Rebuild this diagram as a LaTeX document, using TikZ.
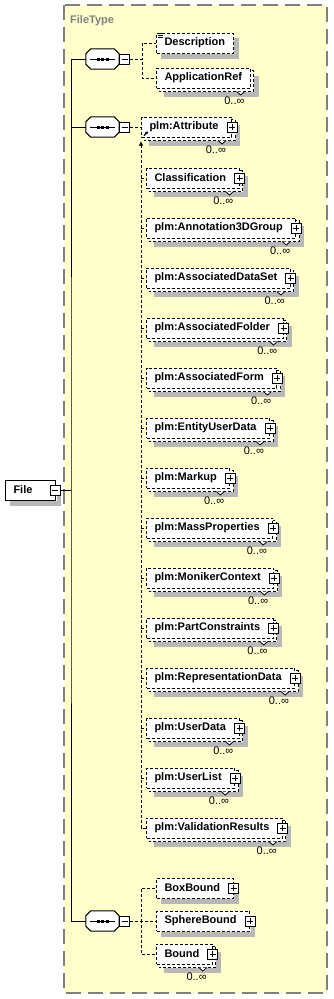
\documentclass[tikz,border=0pt]{standalone}
\usepackage{fontspec}
\setmainfont{Liberation Sans}
\usetikzlibrary{arrows.meta}
\definecolor{typefill}{HTML}{FFFFCC}
\definecolor{typeline}{HTML}{808080}
\definecolor{shadowgray}{RGB}{184,184,184}
\pgfdeclarelayer{paper}
\pgfdeclarelayer{copylayer}
\pgfsetlayers{paper,copylayer,main}
\begin{document}
\begin{tikzpicture}[
    x=1pt,y=-1pt,line width=1pt,
    font=\fontsize{11}{13}\selectfont,
    wire/.style={black,line width=1pt},
    link/.style={black,line width=1pt,dash pattern=on 3pt off 2pt},
    typebox/.style={draw=typeline,fill=typefill,line width=1.5pt,dash pattern=on 15pt off 7pt},
    typename/.style={text=typeline,font=\fontsize{11}{13}\selectfont\bfseries,inner sep=0pt},
    elem/.style={draw=black,fill=white,line width=1pt,dash pattern=on 3pt off 2pt,
      minimum height=20pt,inner xsep=8pt,inner ysep=0pt,anchor=west,
      font=\fontsize{11}{13}\selectfont\bfseries},
    backcopy/.style={draw=black,fill=white,line width=1pt,dash pattern=on 3pt off 2pt},
    dropshade/.style={fill=shadowgray,draw=none},
    expand/.style={execute at end node={\hspace*{5pt}}},
    btn/.style={draw=black,fill=white,solid,line width=1pt,minimum size=10pt,inner sep=0pt},
    minus/.style={btn,path picture={
        \draw ([xshift=2pt]path picture bounding box.west) -- ([xshift=-2pt]path picture bounding box.east);}},
    plus/.style={btn,path picture={
        \draw ([xshift=2pt]path picture bounding box.west) -- ([xshift=-2pt]path picture bounding box.east);
        \draw ([yshift=-2pt]path picture bounding box.north) -- ([yshift=2pt]path picture bounding box.south);}},
    seq/.style={minimum width=33pt,minimum height=20pt,inner sep=0pt},
    occurs/.style={inner sep=0pt,font=\fontsize{11}{13}\selectfont},
    notch/.style={black,line width=.8pt}
  ]
    \useasboundingbox (0,0) rectangle (333,999);

    % The complex type that holds the whole content model.
    \begin{pgfonlayer}{paper}
      \draw[typebox] (64,5) rectangle (327,993);
    \end{pgfonlayer}
    \node[typename,anchor=base west] (typelabel) at (70,23.5) {FileType};

    % Root element.
    \node[elem,solid,text width=34pt,align=left] (file) at (5,490) {File};
    \coordinate (trunk) at (71,490);

    % Three sequence compositors, drawn as octagons with their shadow first.
    \node[seq] (seqA) at (102.5,59) {};
    \node[seq] (seqB) at (102.5,127) {};
    \node[seq] (seqC) at (102.5,921) {};
    \foreach \n in {seqA,seqB,seqC}{
      \path[dropshade,xshift=4pt,yshift=-4pt] ([xshift=5pt]\n.north west) -- ([xshift=-5pt]\n.north east)
        -- ([yshift=-5pt]\n.north east) -- ([yshift=5pt]\n.south east) -- ([xshift=-5pt]\n.south east)
        -- ([xshift=5pt]\n.south west) -- ([yshift=5pt]\n.south west) -- ([yshift=-5pt]\n.north west) -- cycle;
      \draw[wire,fill=white] ([xshift=5pt]\n.north west) -- ([xshift=-5pt]\n.north east)
        -- ([yshift=-5pt]\n.north east) -- ([yshift=5pt]\n.south east) -- ([xshift=-5pt]\n.south east)
        -- ([xshift=5pt]\n.south west) -- ([yshift=5pt]\n.south west) -- ([yshift=-5pt]\n.north west) -- cycle;
      \draw[wire] ([xshift=4pt]\n.west) -- ([xshift=-4pt]\n.east);
      \fill ([xshift=-6pt,yshift=1.5pt]\n.center) rectangle ++(3,3);
      \fill ([xshift=-1.5pt,yshift=1.5pt]\n.center) rectangle ++(3,3);
      \fill ([xshift=3pt,yshift=1.5pt]\n.center) rectangle ++(3,3);
    }

    % First sequence.
    \node[elem] (desc) at (156,43) {Description};
    \node[elem] (appref) at (156,78) {ApplicationRef};
    \foreach \d in {0.5,2.5,4.5}
      \draw[wire,line width=.7pt] ([xshift=2pt,yshift=-\d pt]desc.north west) -- ++(4.5,0);

    % Second sequence, every member may repeat.
    \node[elem,expand] (attr) at (141,127) {plm:Attribute};
    \node[elem,expand] (classif) at (146,178) {Classification};
    \node[elem,expand] (annot) at (146,228) {plm:Annotation3DGroup};
    \node[elem,expand] (dataset) at (146,278) {plm:AssociatedDataSet};
    \node[elem,expand] (folder) at (146,328) {plm:AssociatedFolder};
    \node[elem,expand] (form) at (146,378) {plm:AssociatedForm};
    \node[elem,expand] (entity) at (146,428) {plm:EntityUserData};
    \node[elem,expand] (markup) at (146,478) {plm:Markup};
    \node[elem,expand] (mass) at (146,528) {plm:MassProperties};
    \node[elem,expand] (moniker) at (146,578) {plm:MonikerContext};
    \node[elem,expand] (constr) at (146,628) {plm:PartConstraints};
    \node[elem,expand] (repdata) at (146,678) {plm:RepresentationData};
    \node[elem,expand] (userdata) at (146,728) {plm:UserData};
    \node[elem,expand] (userlist) at (146,778) {plm:UserList};
    \node[elem,expand] (valres) at (146,828) {plm:ValidationResults};
    \draw[wire,line width=1.2pt,-{Triangle[length=2.5pt,width=3pt]}]
      ([xshift=3pt,yshift=2pt]attr.south west) -- ++(4,-4);

    % Third sequence.
    \node[elem,expand] (boxb) at (156,888) {BoxBound};
    \node[elem,expand] (sphereb) at (156,921) {SphereBound};
    \node[elem,expand] (bound) at (156,954) {Bound};

    % The second copy behind each repeating element.
    \begin{pgfonlayer}{copylayer}
      \foreach \n in {appref,attr,classif,annot,dataset,folder,form,entity,markup,mass,
                      moniker,constr,repdata,userdata,userlist,valres,bound}
        \draw[backcopy] ([xshift=3pt,yshift=-3pt]\n.north west) rectangle ([xshift=3pt,yshift=-3pt]\n.south east);
    \end{pgfonlayer}

    % Grey shadows: only the strips that stick out right and below are drawn.
    \foreach \n in {file,desc,boxb,sphereb}{
      \path[dropshade] ([xshift=5pt,yshift=-.5pt]\n.south west) rectangle ([xshift=5pt,yshift=-5pt]\n.south east);
      \path[dropshade] ([xshift=.5pt,yshift=-5pt]\n.north east) rectangle ([xshift=5pt,yshift=-5pt]\n.south east);
    }
    \foreach \n in {appref,attr,classif,annot,dataset,folder,form,entity,markup,mass,
                    moniker,constr,repdata,userdata,userlist,valres,bound}{
      \path[dropshade] ([xshift=8pt,yshift=-3.5pt]\n.south west) rectangle ([xshift=8pt,yshift=-8pt]\n.south east);
      \path[dropshade] ([xshift=3.5pt,yshift=-8pt]\n.north east) rectangle ([xshift=8pt,yshift=-8pt]\n.south east);
    }

    % Collapse and expand buttons on the right edge of the boxes.
    \node[minus] (fileminus) at ([xshift=-1pt]file.east) {};
    \node[minus,anchor=west] (minA) at (seqA.east) {};
    \node[minus,anchor=west] (minB) at (seqB.east) {};
    \node[minus,anchor=west] (minC) at (seqC.east) {};
    \foreach \n in {attr,classif,annot,dataset,folder,form,entity,markup,mass,
                    moniker,constr,repdata,userdata,userlist,valres,boxb,sphereb,bound}
      \node[plus] (\n-plus) at (\n.east) {};

    % Occurrence labels below the repeating elements.
    \foreach \n in {appref,attr,classif,annot,dataset,folder,form,entity,markup,mass,
                    moniker,constr,repdata,userdata,userlist,valres,bound}{
      \node[occurs,anchor=north east] (\n-occ) at ([xshift=-6pt,yshift=-8.5pt]\n.south east) {0..∞};
      \fill[white] ([xshift=-14pt,yshift=-3pt]\n.south east) -- ([xshift=-10pt,yshift=-6.5pt]\n.south east)
        -- ([xshift=-6pt,yshift=-3pt]\n.south east) -- cycle;
      \draw[notch] ([xshift=-14pt,yshift=-3pt]\n.south east) -- ([xshift=-10pt,yshift=-6.5pt]\n.south east)
        -- ([xshift=-6pt,yshift=-3pt]\n.south east);
    }

    % Solid trunk from the root to the compositors.
    \draw[wire] (seqA.west) -| (trunk) |- (seqC.west);
    \draw[wire] (seqB.west) -- (seqB.west -| trunk);
    \draw[wire] (fileminus.east) -- (trunk);

    % Dashed branches to the members.
    \draw[link] (minA.east) -- ++(12,0) |- (desc.west);
    \draw[link] (minA.east) -- ++(12,0) |- (appref.west);
    \draw[link] (minB.east) -- (attr.west);
    \draw[link,{Triangle[length=4pt,width=4pt]}-] ([yshift=-4pt]attr.south west)
      -- (attr.west |- valres.west) -- (valres.west);
    \foreach \n in {classif,annot,dataset,folder,form,entity,markup,mass,
                    moniker,constr,repdata,userdata,userlist}
      \draw[link] (attr.west |- \n.west) -- (\n.west);
    \draw[link] (minC.east) -- ++(11,0) |- (boxb.west);
    \draw[link] (minC.east) -- ++(11,0) |- (sphereb.west);
    \draw[link] (minC.east) -- ++(11,0) |- (bound.west);
\end{tikzpicture}
\end{document}
